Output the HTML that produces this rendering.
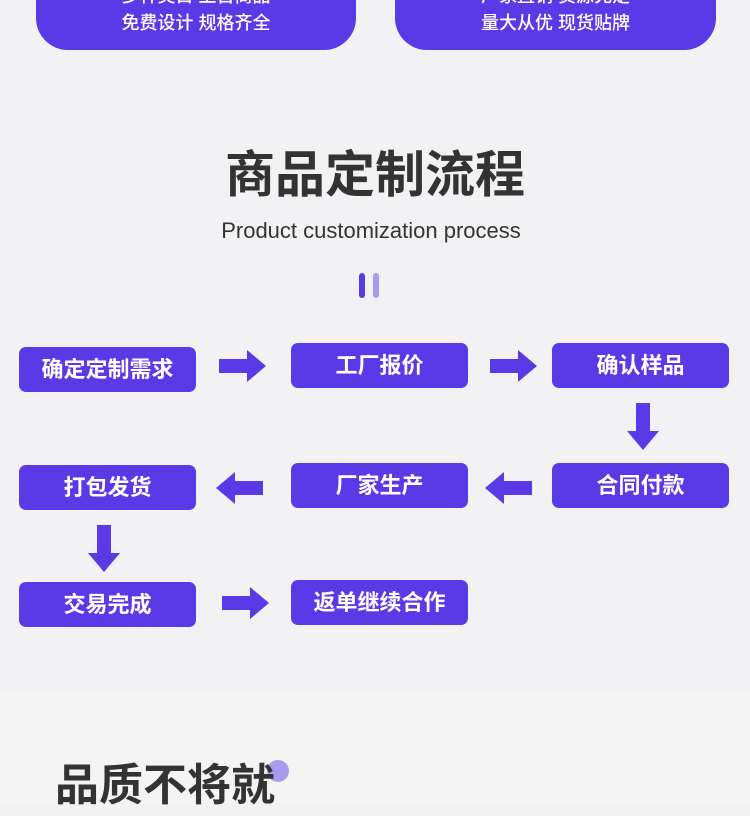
<!DOCTYPE html>
<html><head><meta charset="utf-8"><style>
*{margin:0;padding:0;box-sizing:border-box}
body{width:750px;height:803px;overflow:hidden;background:#f2f2f4;position:relative;font-family:"Liberation Sans","Noto Sans CJK SC",sans-serif}
.card{position:absolute;top:-40px;height:90px;background:#5a3ae6;border-radius:0 0 32px 32px;color:#fff;text-align:center;font-size:18px;font-weight:500;line-height:26px}
.card div{position:absolute;left:0;right:0}
.b{position:absolute;width:177px;height:45px;background:#5a3ae6;border-radius:7px;color:#fff;font-weight:bold;font-size:22px;text-align:center;line-height:45px}
svg.a{position:absolute}
</style></head><body>
<div style="position:absolute;left:0;top:690px;width:750px;height:113px;background:#f4f4f4"></div>
<div class="card" style="left:36px;width:320px"><div style="top:23px">多种类目 上百商品</div><div style="top:50px">免费设计 规格齐全</div></div>
<div class="card" style="left:395px;width:321px"><div style="top:23px">厂家直销 货源充足</div><div style="top:50px">量大从优 现货贴牌</div></div>
<div style="position:absolute;left:0;width:750px;top:143px;text-align:center;font-size:50px;font-weight:bold;color:#333;line-height:64px">商品定制流程</div>
<div style="position:absolute;left:0;width:742px;top:217px;text-align:center;font-size:22px;color:#333;line-height:28px">Product customization process</div>
<div style="position:absolute;left:359px;top:273px;width:6px;height:25px;background:#5a3ae6;border-radius:3px"></div>
<div style="position:absolute;left:373px;top:273px;width:6px;height:25px;background:#a99af0;border-radius:3px"></div>

<div class="b" style="left:19px;top:347px">确定定制需求</div>
<div class="b" style="left:291px;top:343px">工厂报价</div>
<div class="b" style="left:552px;top:343px">确认样品</div>
<div class="b" style="left:19px;top:465px">打包发货</div>
<div class="b" style="left:291px;top:463px">厂家生产</div>
<div class="b" style="left:552px;top:463px">合同付款</div>
<div class="b" style="left:19px;top:582px">交易完成</div>
<div class="b" style="left:291px;top:580px">返单继续合作</div>

<svg class="a" style="left:219px;top:350px" width="47" height="32"><polygon points="0,9 28,9 28,0 47,16 28,32 28,23 0,23" fill="#5a3ae6"/></svg>
<svg class="a" style="left:490px;top:350px" width="47" height="32"><polygon points="0,9 28,9 28,0 47,16 28,32 28,23 0,23" fill="#5a3ae6"/></svg>
<svg class="a" style="left:222px;top:587px" width="47" height="32"><polygon points="0,9 28,9 28,0 47,16 28,32 28,23 0,23" fill="#5a3ae6"/></svg>
<svg class="a" style="left:485px;top:472px" width="47" height="32"><polygon points="47,9 19,9 19,0 0,16 19,32 19,23 47,23" fill="#5a3ae6"/></svg>
<svg class="a" style="left:216px;top:472px" width="47" height="32"><polygon points="47,9 19,9 19,0 0,16 19,32 19,23 47,23" fill="#5a3ae6"/></svg>
<svg class="a" style="left:627px;top:403px" width="32" height="47"><polygon points="9,0 23,0 23,28 32,28 16,47 0,28 9,28" fill="#5a3ae6"/></svg>
<svg class="a" style="left:88px;top:525px" width="32" height="47"><polygon points="9,0 23,0 23,28 32,28 16,47 0,28 9,28" fill="#5a3ae6"/></svg>

<div style="position:absolute;left:267px;top:760px;width:22px;height:22px;border-radius:50%;background:#a99af0"></div>
<div style="position:absolute;left:55px;top:756px;font-size:44px;font-weight:bold;color:#333;line-height:60px;white-space:nowrap">品质不将就</div>
</body></html>
